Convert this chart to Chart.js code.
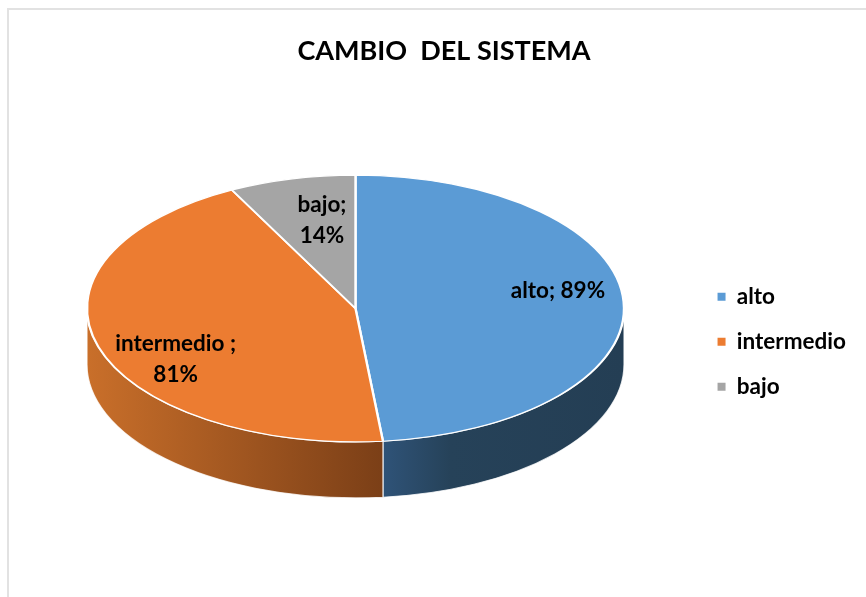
<!DOCTYPE html>
<html><head><meta charset="utf-8">
<style>
html,body{margin:0;padding:0;background:#fff;width:866px;height:597px;overflow:hidden}
#frame{position:absolute;left:7px;top:8px;right:-4px;bottom:-4px;border:2px solid #e2e2e2;box-sizing:border-box}
canvas{position:absolute;left:0;top:0}
</style>
<script src="https://cdn.jsdelivr.net/npm/chart.js@4"></script>
</head><body>
<div id="frame"></div>
<canvas id="c" width="866" height="597"></canvas>
<script>
const chartTitle = 'CAMBIO  DEL SISTEMA';
const categories = ['alto', 'intermedio', 'bajo'];
const values = [89, 81, 14];
const dataLabelLines = [['alto; 89%'], ['intermedio ;', '81%'], ['bajo;', '14%']];
const topColors = ['#5b9bd5', '#ec7c31', '#a5a5a5'];
const wallStops = [
  [[0, '#2f5378'], [0.28, '#264259'], [1, '#243e54']],
  [[0, '#c96f2a'], [1, '#7b3f17']],
  [[0, '#636363'], [1, '#636363']]
];
const labelAnchors = [[0.754, -0.131], [-0.670, 0.382], [-0.125, -0.663]];
const tilt = 0.497, depth = 56, targetX = 355.5, targetY = 308.5;
const fontFamily = 'Lato, Carlito, "Open Sans", sans-serif';

const tilted = {
  id: 'tilted',
  beforeDatasetsDraw(chart) {
    const ctx = chart.ctx;
    const arcs = chart.getDatasetMeta(0).data;
    arcs.forEach((arc, i) => {
      const rx = arc.outerRadius, ry = rx * tilt;
      const a0 = Math.max(arc.startAngle, 0), a1 = Math.min(arc.endAngle, Math.PI);
      if (a1 <= a0) return;
      const xs = targetX + rx * Math.cos(a0), xe = targetX + rx * Math.cos(a1);
      const g = ctx.createLinearGradient(Math.min(xs, xe), 0, Math.max(xs, xe), 0);
      wallStops[i].forEach(st => g.addColorStop(st[0], st[1]));
      ctx.beginPath();
      ctx.ellipse(targetX, targetY, rx, ry, 0, a0, a1);
      ctx.lineTo(xe, targetY + ry * Math.sin(a1) + depth);
      ctx.ellipse(targetX, targetY + depth, rx, ry, 0, a1, a0, true);
      ctx.closePath();
      ctx.fillStyle = g;
      ctx.fill();
      ctx.strokeStyle = 'rgba(255,255,255,0.8)';
      ctx.lineWidth = 1.2;
      ctx.stroke();
    });
    ctx.save();
    const first = arcs[0];
    ctx.translate(targetX, targetY);
    ctx.scale(1, tilt);
    ctx.translate(-first.x, -first.y);
  },
  afterDatasetsDraw(chart) {
    const ctx = chart.ctx;
    ctx.restore();
    const arcs = chart.getDatasetMeta(0).data;
    ctx.save();
    ctx.font = 'bold 22.5px ' + fontFamily;
    ctx.fillStyle = '#000';
    ctx.textAlign = 'center';
    ctx.textBaseline = 'middle';
    arcs.forEach((arc, i) => {
      const lx = targetX + labelAnchors[i][0] * arc.outerRadius;
      const ly = targetY + labelAnchors[i][1] * arc.outerRadius * tilt;
      const lines = dataLabelLines[i];
      lines.forEach((t, k) => ctx.fillText(t, lx, ly + (k - (lines.length - 1) / 2) * 31.5));
    });
    ctx.restore();
  }
};

new Chart(document.getElementById('c'), {
  type: 'pie',
  data: {
    labels: categories,
    datasets: [{
      data: values,
      backgroundColor: topColors,
      borderColor: '#fff',
      borderWidth: 2.4,
      radius: 268.5
    }]
  },
  options: {
    responsive: false,
    animation: false,
    layout: { padding: { left: 32, right: 10, top: 35, bottom: 0 } },
    plugins: {
      tooltip: { enabled: false },
      title: {
        display: true,
        text: chartTitle,
        color: '#000',
        font: { family: fontFamily, size: 27, weight: 'bold' },
        padding: { top: 0, bottom: 19 }
      },
      legend: {
        position: 'right',
        fullSize: false,
        labels: {
          boxWidth: 8,
          boxHeight: 8,
          color: '#000',
          padding: 22.5,
          font: { family: fontFamily, size: 22.5, weight: 'bold' },
          generateLabels(chart) {
            return Chart.overrides.pie.plugins.legend.labels.generateLabels(chart)
              .map(item => Object.assign(item, { lineWidth: 0 }));
          }
        }
      }
    }
  },
  plugins: [tilted]
});
</script>
</body></html>
